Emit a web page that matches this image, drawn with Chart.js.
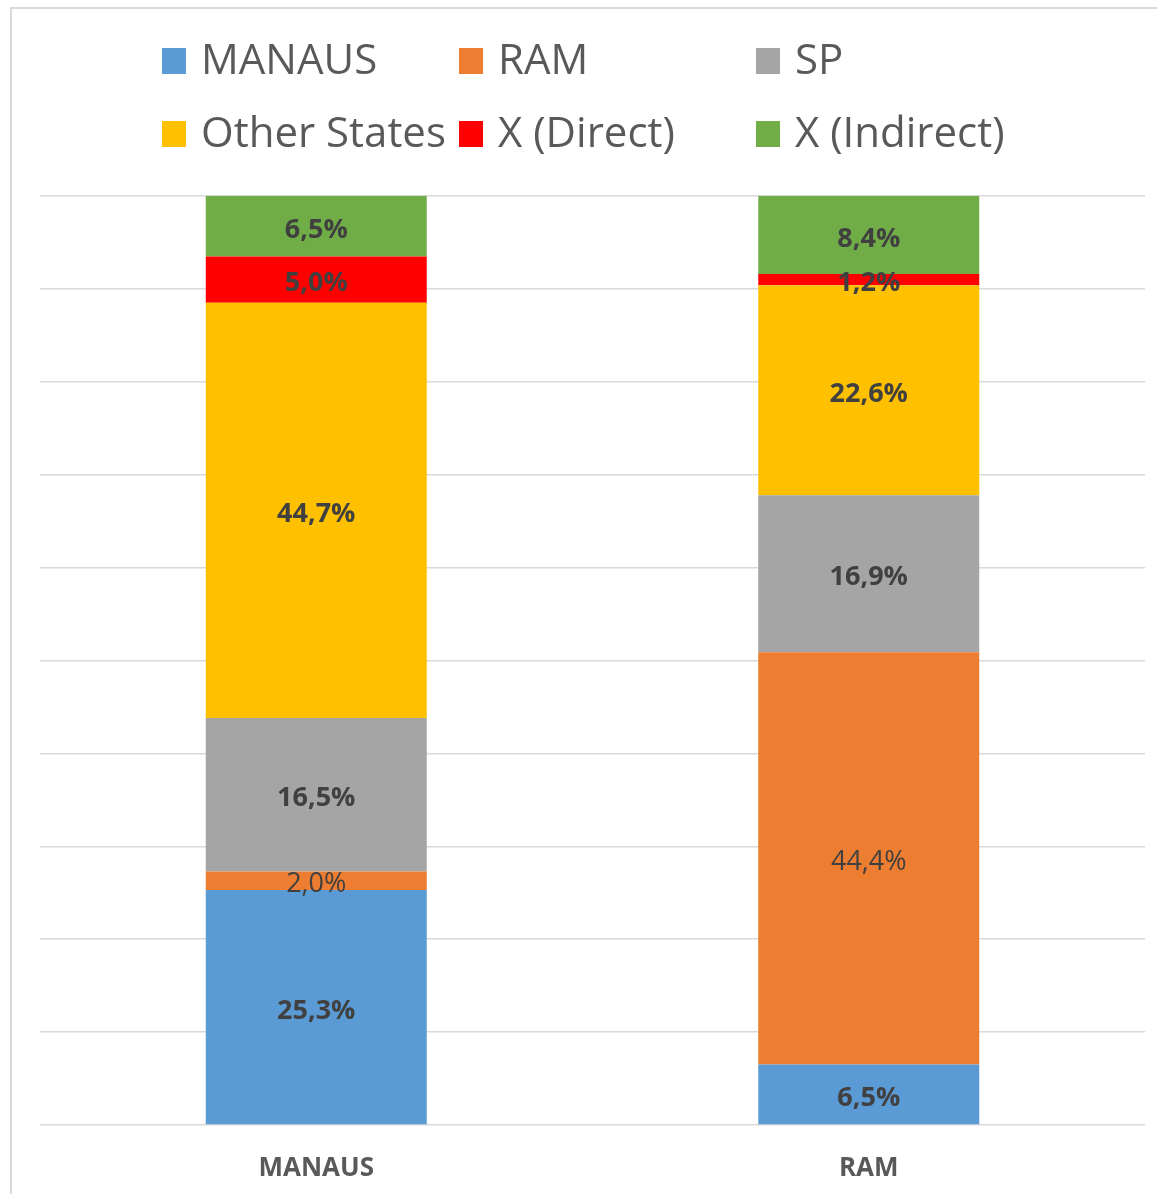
<!DOCTYPE html>
<html>
<head>
<meta charset="utf-8">
<script src="https://cdn.jsdelivr.net/npm/chart.js@4.4.0/dist/chart.umd.min.js"></script>
<style>
  body { margin: 0; background: #fff; }
  #wrap { width: 1157px; height: 1194px; position: relative; }
</style>
</head>
<body>
<div id="wrap"><canvas id="chart"></canvas></div>
<script>
// categorias e valores (%)
const categories = ['MANAUS', 'RAM'];
const seriesNames = ['MANAUS', 'RAM', 'SP', 'Other States', 'X (Direct)', 'X (Indirect)'];
const manausValues = [25.3, 6.5];
const ramValues = [2.0, 44.4];
const spValues = [16.5, 16.9];
const otherValues = [44.7, 22.6];
const directValues = [5.0, 1.2];
const indirectValues = [6.5, 8.4];
const yTicks = [0, 10, 20, 30, 40, 50, 60, 70, 80, 90, 100];

const colors = ['#5b9bd5', '#ed7d31', '#a5a5a5', '#ffc000', '#ff0000', '#70ad47'];
const values = [manausValues, ramValues, spValues, otherValues, directValues, indirectValues];

const datasets = seriesNames.map((name, i) => ({
  label: name,
  data: values[i],
  backgroundColor: colors[i],
  borderWidth: 0,
  barPercentage: 0.4,
  categoryPercentage: 1.0
}));

// borda externa do gráfico
const frame = {
  id: 'frame',
  beforeDraw(chart) {
    const ctx = chart.ctx;
    ctx.save();
    ctx.strokeStyle = '#d9d9d9';
    ctx.lineWidth = 2;
    ctx.beginPath();
    ctx.moveTo(11, 1194);
    ctx.lineTo(11, 8);
    ctx.lineTo(1157, 8);
    ctx.stroke();
    ctx.restore();
  }
};

// rótulos no meio de cada segmento
const segLabels = {
  id: 'segLabels',
  afterDatasetsDraw(chart) {
    const ctx = chart.ctx;
    ctx.save();
    ctx.textAlign = 'center';
    ctx.textBaseline = 'middle';
    ctx.fillStyle = '#404040';
    chart.data.datasets.forEach((ds, di) => {
      const meta = chart.getDatasetMeta(di);
      ctx.font = (di === 1 ? '' : 'bold ') + '27px "Open Sans"';
      meta.data.forEach((bar, i) => {
        const v = ds.data[i];
        const yc = (bar.y + bar.base) / 2;
        ctx.fillText(v.toFixed(1).replace('.', ',') + '%', bar.x, yc + 4);
      });
    });
    ctx.restore();
  }
};

// legenda em grade 3 x 2
const gridLegend = {
  id: 'gridLegend',
  afterDraw(chart) {
    const ctx = chart.ctx;
    const cols = [162, 459, 756];
    const rows = [61, 134];
    ctx.save();
    ctx.font = '42px "Open Sans"';
    ctx.textBaseline = 'middle';
    ctx.textAlign = 'left';
    chart.data.datasets.forEach((ds, i) => {
      const x = cols[i % 3];
      const y = rows[Math.floor(i / 3)];
      ctx.fillStyle = ds.backgroundColor;
      ctx.fillRect(x, y - 13, 24, 26);
      ctx.fillStyle = '#595959';
      ctx.fillText(ds.label, x + 39, y + 1);
    });
    ctx.restore();
  }
};

new Chart(document.getElementById('chart'), {
  type: 'bar',
  data: { labels: categories, datasets: datasets },
  options: {
    responsive: true,
    maintainAspectRatio: false,
    animation: false,
    layout: { padding: { top: 196, left: 40, right: 12, bottom: 0 } },
    plugins: {
      legend: { display: false },
      tooltip: { enabled: false }
    },
    scales: {
      x: {
        stacked: true,
        grid: { display: false },
        border: { display: false },
        afterFit: s => { s.height = 69; },
        ticks: {
          padding: 20,
          color: '#595959',
          font: { family: '"Open Sans"', size: 26, weight: 'bold' }
        }
      },
      y: {
        stacked: true,
        min: 0,
        max: 100,
        afterBuildTicks: s => { s.ticks = yTicks.map(v => ({ value: v })); },
        afterFit: s => { s.width = 0; },
        ticks: { display: false },
        border: { display: false },
        grid: { color: '#d9d9d9', lineWidth: 1.5, drawTicks: false }
      }
    }
  },
  plugins: [frame, segLabels, gridLegend]
});
</script>
</body>
</html>
